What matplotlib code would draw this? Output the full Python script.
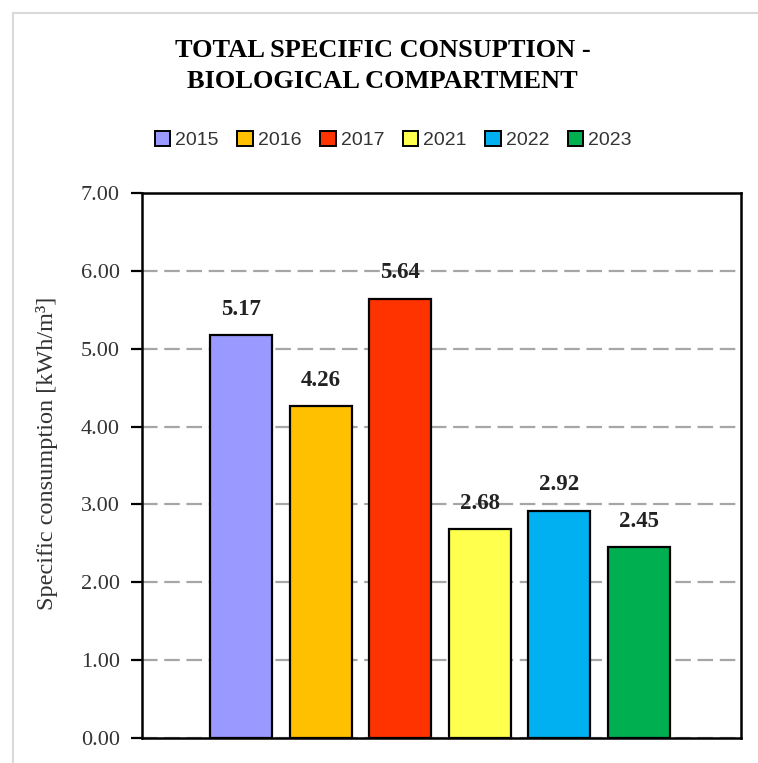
import matplotlib
matplotlib.use("Agg")
import matplotlib.pyplot as plt
from matplotlib.patches import Rectangle

# --- data ---
years = ["2015", "2016", "2017", "2021", "2022", "2023"]
values = [5.17, 4.26, 5.64, 2.68, 2.92, 2.45]
colors = ["#9999ff", "#ffc000", "#ff3300", "#ffff4d", "#00b0f0", "#00b050"]
yticks = [0, 1, 2, 3, 4, 5, 6, 7]

serif = ["Liberation Serif", "DejaVu Serif"]
sans = ["Liberation Sans", "DejaVu Sans"]
plt.rcParams["font.family"] = serif

W, H = 758, 763
fig = plt.figure(figsize=(W / 100, H / 100), dpi=100)

# axes placed in pixels
left, right, top, bottom = 142, 741, 193, 738
ax = fig.add_axes([left / W, 1 - bottom / H, (right - left) / W, (bottom - top) / H])

# light frame around the whole chart
fig.patches.append(Rectangle((13 / W, -0.01), 1.0, 1 - 13 / H + 0.01,
                             transform=fig.transFigure, fill=False,
                             edgecolor="#d9d9d9", lw=1.5, zorder=0))

x = list(range(len(years)))
ax.bar(x, values, width=0.78, color=colors, edgecolor="black",
       linewidth=1.6, zorder=3)
for xi, v in zip(x, values):
    ax.text(xi, v + 0.2, f"{v:.2f}", ha="center", va="bottom",
            fontsize=16.5, fontweight="bold", color="#222222", zorder=4)

ax.set_xlim(-1.245, 6.283)
ax.set_ylim(0, 7)
ax.set_yticks(yticks)
ax.set_yticklabels([f"{t:.2f}" for t in yticks], fontsize=16, color="#333333")
ax.set_xticks([])
ax.tick_params(axis="y", direction="out", length=8, width=1.6, pad=8)
for s in ax.spines.values():
    s.set_linewidth(1.8)
ax.yaxis.grid(True, color="#a6a6a6", linestyle=(0, (7, 3)), linewidth=1.6, zorder=1)
ax.set_axisbelow(True)

fig.text(47 / W, 1 - 453 / H, "Specific consumption [kWh/m³]", rotation=90,
         ha="center", va="center", fontsize=17.5, color="#333333")

fig.text(0.505, 1 - 66 / H, "TOTAL SPECIFIC CONSUPTION -\nBIOLOGICAL COMPARTMENT",
         ha="center", va="center", fontsize=19, fontweight="bold",
         linespacing=1.45)

handles = [Rectangle((0, 0), 1, 1, facecolor=c, edgecolor="black", lw=1.4) for c in colors]
fig.legend(handles, years, loc="center", bbox_to_anchor=(0.519, 1 - 140 / H),
           ncol=6, frameon=False, handlelength=0.8, handleheight=0.8,
           handletextpad=0.26, columnspacing=0.95,
           prop={"family": sans, "size": 14}, labelcolor="#333333")

fig.savefig("out.png", dpi=100)
